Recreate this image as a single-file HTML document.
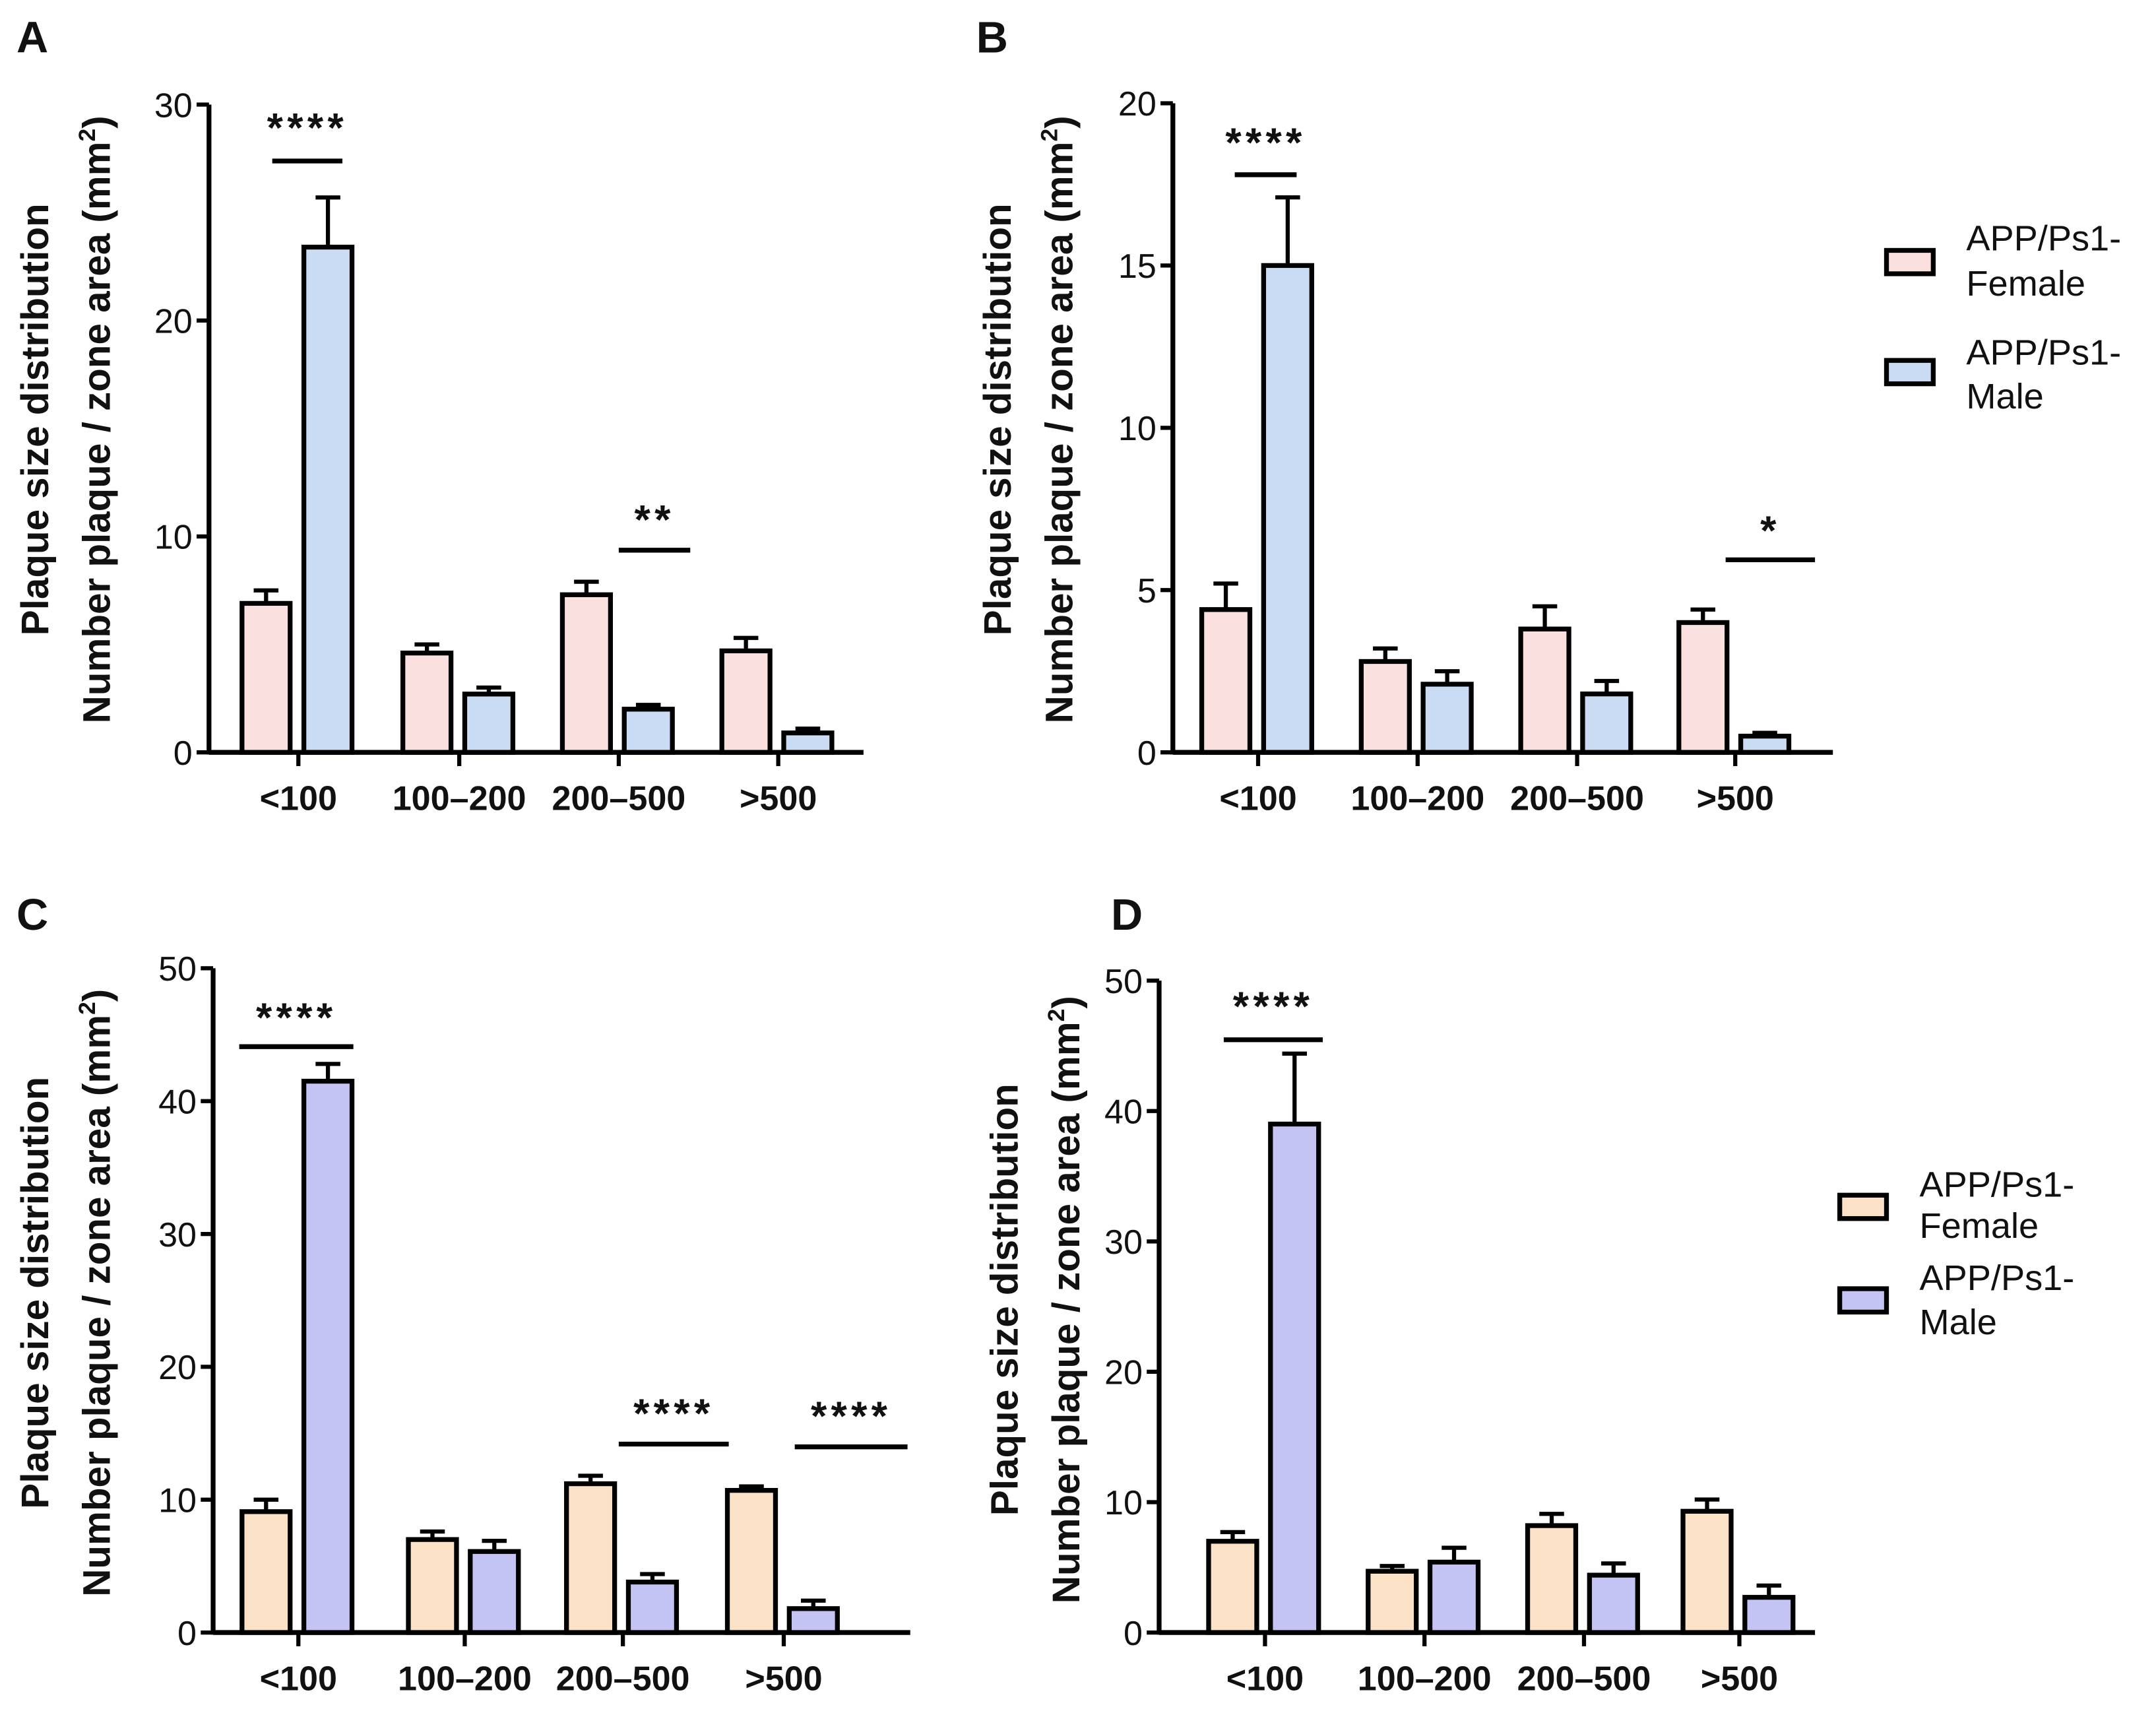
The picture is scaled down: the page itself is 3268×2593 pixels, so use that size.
<!DOCTYPE html>
<html><head><meta charset="utf-8"><style>
html,body{margin:0;padding:0;background:#fff;}
svg{display:block;}
text{font-family:"Liberation Sans",sans-serif;fill:#111;}
</style></head><body>
<svg id="fig" width="3268" height="2593" viewBox="0 0 1568 1244" xmlns="http://www.w3.org/2000/svg"></svg>
<script>
const categories = ["<100", "100\u2013200", "200\u2013500", ">500"];
const aFemale = [6.9, 4.6, 7.3, 4.7];
const aFemaleErr = [0.6, 0.4, 0.6, 0.6];
const aMale = [23.4, 2.7, 2.0, 0.9];
const aMaleErr = [2.3, 0.3, 0.2, 0.2];
const bFemale = [4.4, 2.8, 3.8, 4.0];
const bFemaleErr = [0.8, 0.4, 0.7, 0.4];
const bMale = [15.0, 2.1, 1.8, 0.5];
const bMaleErr = [2.1, 0.4, 0.4, 0.1];
const cFemale = [9.1, 7.0, 11.2, 10.7];
const cFemaleErr = [0.9, 0.6, 0.6, 0.3];
const cMale = [41.5, 6.1, 3.8, 1.8];
const cMaleErr = [1.3, 0.8, 0.6, 0.6];
const dFemale = [7.0, 4.7, 8.2, 9.3];
const dFemaleErr = [0.7, 0.4, 0.9, 0.9];
const dMale = [39.0, 5.4, 4.4, 2.7];
const dMaleErr = [5.4, 1.1, 0.9, 0.9];
const aTicks = [0, 10, 20, 30];
const bTicks = [0, 5, 10, 15, 20];
const cTicks = [0, 10, 20, 30, 40, 50];
const dTicks = [0, 10, 20, 30, 40, 50];
const legendLabels = ["APP/Ps1-", "Female", "APP/Ps1-", "Male"];

const NS = "http://www.w3.org/2000/svg";
const svg = document.getElementById("fig");
function mk(tag, attrs, parent) {
  const e = document.createElementNS(NS, tag);
  for (const k in attrs) e.setAttribute(k, attrs[k]);
  (parent || svg).appendChild(e);
  return e;
}

const panels = [
  {id:"a", letter:"A", lx:12, ly:38, ax:152, top:76, zero:547, right:628, max:30, ticks:aTicks, cx:[217,334,450,566],
   f:aFemale, fe:aFemaleErr, m:aMale, me:aMaleErr, fc:"#fbe0e0", mc:"#c9dcf3", tx1:35, tx2:80, ty:305,
   sig:[{t:"****", x1:198, x2:249, y:117, ty:103}, {t:"**", x1:450, x2:502, y:400, ty:388}]},
  {id:"b", letter:"B", lx:710, ly:38, ax:853, top:75, zero:547, right:1333, max:20, ticks:bTicks, cx:[915,1031,1147,1262],
   f:bFemale, fe:bFemaleErr, m:bMale, me:bMaleErr, fc:"#fbe0e0", mc:"#c9dcf3", tx1:735, tx2:780, ty:305,
   sig:[{t:"****", x1:898, x2:943, y:127, ty:114}, {t:"*", x1:1255, x2:1320, y:407, ty:396}],
   legend:{bx:1372, by:[190,270], tx:1430, ty:[182,215,265,297]}},
  {id:"c", letter:"C", lx:12, ly:676, ax:155, top:704, zero:1187, right:662, max:50, ticks:cTicks, cx:[217,338,453,570],
   f:cFemale, fe:cFemaleErr, m:cMale, me:cMaleErr, fc:"#fbe2c6", mc:"#c4c4f4", tx1:35, tx2:80, ty:940,
   sig:[{t:"****", x1:174, x2:257, y:761, ty:750}, {t:"****", x1:450, x2:530, y:1050, ty:1038}, {t:"****", x1:578, x2:660, y:1052, ty:1040}]},
  {id:"d", letter:"D", lx:808, ly:676, ax:843, top:713, zero:1187, right:1320, max:50, ticks:dTicks, cx:[920,1036,1152,1265],
   f:dFemale, fe:dFemaleErr, m:dMale, me:dMaleErr, fc:"#fbe2c6", mc:"#c4c4f4", tx1:740, tx2:785, ty:945,
   sig:[{t:"****", x1:890, x2:962, y:756, ty:742}],
   legend:{bx:1338, by:[877,945], tx:1396, ty:[870,900,938,970]}}
];

panels.forEach(p => {
  const g = mk("g", {});
  
  
  const y = v => p.zero - (v / p.max) * (p.zero - p.top);
  const lt = mk("text", {x:p.lx, y:p.ly, "font-size":32, "font-weight":"bold"}, g);
  lt.textContent = p.letter;
  
  
  const t1 = mk("text", {x:0, y:0, "font-size":28, "font-weight":"bold", "text-anchor":"middle", transform:`translate(${p.tx1},${p.ty}) rotate(-90)`}, g);
  t1.textContent = "Plaque size distribution";
  
  
  const t2 = mk("text", {x:0, y:0, "font-size":28, "font-weight":"bold", "text-anchor":"middle", transform:`translate(${p.tx2},${p.ty}) rotate(-90)`}, g);
  t2.innerHTML = 'Number plaque / zone area (mm<tspan dy="-11" font-size="17">2</tspan><tspan dy="11">)</tspan>';
  
  
  const ya = mk("line", {x1:p.ax, y1:p.top, x2:p.ax, y2:p.zero+1.5, stroke:"#000", "stroke-width":3.5}, g);
  
  
  p.ticks.forEach(tv => {
    const tk = mk("line", {x1:p.ax-9, y1:y(tv), x2:p.ax, y2:y(tv), stroke:"#000", "stroke-width":3}, g);
    
    
    const tl = mk("text", {x:p.ax-12, y:y(tv)+9, "font-size":25, "text-anchor":"end"}, g);
    tl.textContent = tv;
    
    
  });
  const xa = mk("line", {x1:p.ax, y1:p.zero, x2:p.right, y2:p.zero, stroke:"#000", "stroke-width":3.5}, g);
  
  
  const bw = 35;
  categories.forEach((c, i) => {
    const cx = p.cx[i];
    const tk = mk("line", {x1:cx, y1:p.zero, x2:cx, y2:p.zero+10, stroke:"#000", "stroke-width":3}, g);
    
    
    const tl = mk("text", {x:cx, y:p.zero+42, "font-size":25, "font-weight":"bold", "text-anchor":"middle"}, g);
    tl.textContent = c;
    
    
    [[p.f, p.fe, p.fc, cx-41, "female"], [p.m, p.me, p.mc, cx+4, "male"]].forEach(s => {
      const v = s[0][i], e = s[1][i], x0 = s[3];
      const mid = x0 + bw/2;
      const el = mk("line", {x1:mid, y1:y(v), x2:mid, y2:y(v+e), stroke:"#000", "stroke-width":3}, g);
      
      
      const ec = mk("line", {x1:mid-9, y1:y(v+e), x2:mid+9, y2:y(v+e), stroke:"#000", "stroke-width":3}, g);
      
      
      const r = mk("rect", {x:x0, y:y(v), width:bw, height:p.zero-y(v), fill:s[2], stroke:"#000", "stroke-width":3.5}, g);
      
      
    });
  });
  p.sig.forEach(s => {
    const l = mk("line", {x1:s.x1, y1:s.y, x2:s.x2, y2:s.y, stroke:"#000", "stroke-width":3.5}, g);
    
    
    const t = mk("text", {x:(s.x1+s.x2)/2, y:s.ty, "font-size":30, "font-weight":"bold", "text-anchor":"middle", "letter-spacing":3}, g);
    t.textContent = s.t;
    
    
  });
  if (p.legend) {
    const L = p.legend;
    [p.fc, p.mc].forEach((col, k) => {
      const b = mk("rect", {x:L.bx, y:L.by[k]-8, width:34, height:17, fill:col, stroke:"#000", "stroke-width":3.5}, g);
      
      
    });
    legendLabels.forEach((lab, k) => {
      const t = mk("text", {x:L.tx, y:L.ty[k], "font-size":26}, g);
      t.textContent = lab;
      
      
    });
  }
});
</script>
</body></html>
